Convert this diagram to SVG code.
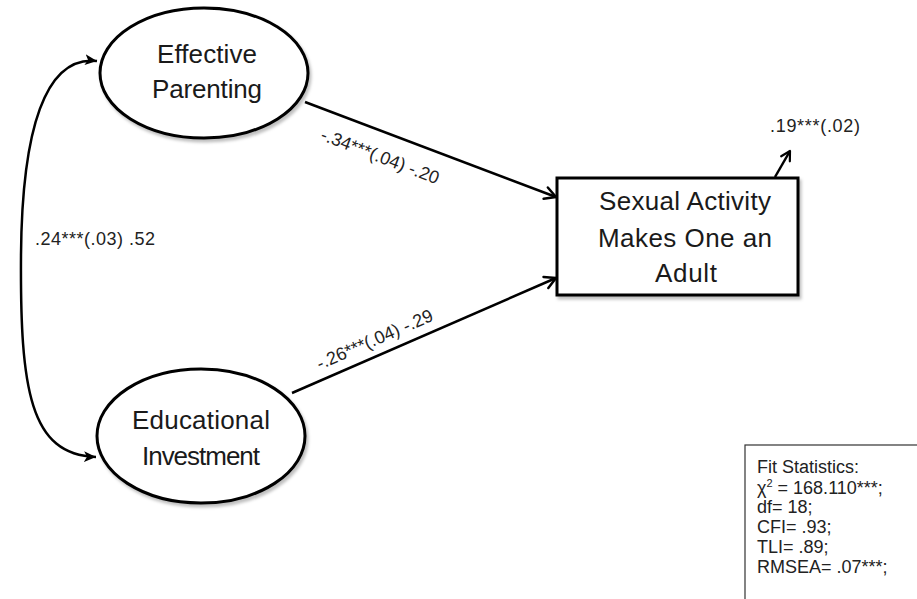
<svg xmlns="http://www.w3.org/2000/svg" width="917" height="599" viewBox="0 0 917 599">
  <defs>
    <filter id="shadow" x="-10%" y="-10%" width="130%" height="130%">
      <feDropShadow dx="2" dy="3" stdDeviation="1.5" flood-color="#000" flood-opacity="0.25"/>
    </filter>
    <marker id="open" markerWidth="16" markerHeight="16" refX="13" refY="8" orient="auto" markerUnits="userSpaceOnUse">
      <path d="M2,2 L13,8 L2,14" fill="none" stroke="#000" stroke-width="2.5" stroke-linecap="round" stroke-linejoin="round"/>
    </marker>
    <marker id="open-small" markerWidth="14" markerHeight="14" refX="11" refY="7" orient="auto" markerUnits="userSpaceOnUse">
      <path d="M2,2 L11,7 L2,12" fill="none" stroke="#000" stroke-width="2.2" stroke-linecap="round" stroke-linejoin="round"/>
    </marker>
    <marker id="solid" markerWidth="14" markerHeight="14" refX="12" refY="7" orient="auto-start-reverse" markerUnits="userSpaceOnUse">
      <path d="M0,1.5 L12,7 L0,12.5 L3,7 Z" fill="#000"/>
    </marker>
  </defs>
  <style>
    .shape { fill: #fff; stroke: #000; stroke-width: 3; }
    .node { font-family: "Liberation Sans", "DejaVu Sans", sans-serif; font-size: 26px; fill: #1a1a1a; text-anchor: middle; }
    .lbl { font-family: "Liberation Sans", Arial, sans-serif; font-size: 18px; fill: #222; }
    .edge { fill: none; stroke: #000; stroke-width: 2.5; }
  </style>
  <rect width="917" height="599" fill="#fff"/>

  <g id="connectors">
    <path class="edge" d="M97,61 C45,55 22,130 21,255 C20,390 30,455 96,457" marker-start="url(#solid)" marker-end="url(#solid)"/>
    <line class="edge" x1="305" y1="102" x2="556" y2="197" marker-end="url(#open)"/>
    <line class="edge" x1="292" y1="393" x2="556" y2="278" marker-end="url(#open)"/>
    <line class="edge" x1="775" y1="177" x2="790" y2="151" marker-end="url(#open-small)"/>
    <text class="lbl" x="35" y="245" textLength="120">.24***(.03) .52</text>
    <text class="lbl" text-anchor="middle" transform="translate(378,162) rotate(21)">-.34***(.04) -.20</text>
    <text class="lbl" text-anchor="middle" transform="translate(377,345) rotate(-23.5)">-.26***(.04) -.29</text>
    <text class="lbl" x="770" y="132" textLength="90">.19***(.02)</text>
  </g>

  <g id="effective-parenting">
    <ellipse class="shape" filter="url(#shadow)" cx="204" cy="73" rx="104" ry="65"/>
    <text class="node" x="207" y="63" textLength="100">Effective</text>
    <text class="node" x="207" y="98" textLength="110">Parenting</text>
  </g>

  <g id="educational-investment">
    <ellipse class="shape" filter="url(#shadow)" cx="201" cy="436" rx="104" ry="67"/>
    <text class="node" x="201" y="429" textLength="138">Educational</text>
    <text class="node" x="201" y="465" textLength="118">Investment</text>
  </g>

  <g id="sexual-activity">
    <rect class="shape" filter="url(#shadow)" x="557" y="178" width="241" height="117"/>
    <text class="node" x="685" y="210" textLength="172">Sexual Activity</text>
    <text class="node" x="685" y="247" textLength="174">Makes One an</text>
    <text class="node" x="686" y="282" textLength="62">Adult</text>
  </g>

  <g id="fit-statistics">
    <rect x="745" y="445" width="200" height="200" fill="#fff" stroke="#333" stroke-width="1.2"/>
    <text class="lbl" x="757" y="473">Fit Statistics:</text>
    <text class="lbl" x="757" y="494">χ<tspan font-size="11" dy="-7">2</tspan><tspan dy="7"> = 168.110***;</tspan></text>
    <text class="lbl" x="757" y="513">df= 18;</text>
    <text class="lbl" x="757" y="533">CFI= .93;</text>
    <text class="lbl" x="757" y="553">TLI= .89;</text>
    <text class="lbl" x="757" y="573">RMSEA= .07***;</text>
  </g>
</svg>
